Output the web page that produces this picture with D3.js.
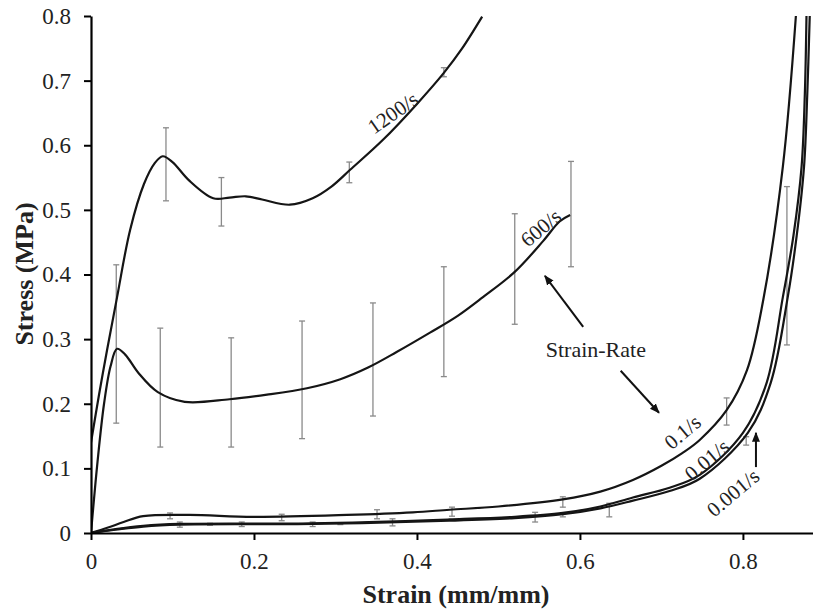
<!DOCTYPE html>
<html>
<head>
<meta charset="utf-8">
<script src="https://cdn.jsdelivr.net/npm/d3@7"></script>
<style>
  html, body { margin: 0; padding: 0; background: #fff; }
  svg { display: block; }
</style>
</head>
<body>
<svg id="chart" width="813" height="611"></svg>
<script>
// ---------- data ----------
const xTicks = [0, 0.2, 0.4, 0.6, 0.8];
const yTicks = [0, 0.1, 0.2, 0.3, 0.4, 0.5, 0.6, 0.7, 0.8];

const strain1200 = [0, 0.01, 0.02, 0.032, 0.048, 0.065, 0.078, 0.088, 0.1, 0.12, 0.15, 0.17, 0.19, 0.21, 0.244, 0.272, 0.295, 0.318, 0.358, 0.40, 0.433, 0.455, 0.48];
const stress1200 = [0.14, 0.215, 0.285, 0.365, 0.469, 0.54, 0.572, 0.583, 0.574, 0.546, 0.518, 0.519, 0.521, 0.516, 0.508, 0.518, 0.536, 0.562, 0.608, 0.664, 0.712, 0.749, 0.799];
const err1200X  = [0.092, 0.16, 0.317, 0.433];
const err1200Lo = [0.514, 0.475, 0.542, 0.706];
const err1200Hi = [0.627, 0.55, 0.574, 0.72];

const strain600 = [0, 0.008, 0.016, 0.024, 0.032, 0.042, 0.058, 0.082, 0.115, 0.17, 0.216, 0.265, 0.306, 0.34, 0.375, 0.416, 0.45, 0.481, 0.52, 0.555, 0.575, 0.588];
const stress600 = [0, 0.11, 0.2, 0.258, 0.285, 0.276, 0.248, 0.218, 0.203, 0.207, 0.214, 0.224, 0.238, 0.256, 0.28, 0.31, 0.336, 0.365, 0.404, 0.452, 0.482, 0.492];
const err600X  = [0.031, 0.085, 0.172, 0.259, 0.346, 0.433, 0.52, 0.589];
const err600Lo = [0.170, 0.133, 0.133, 0.146, 0.181, 0.242, 0.323, 0.412];
const err600Hi = [0.415, 0.317, 0.302, 0.328, 0.356, 0.412, 0.494, 0.575];

const strain01 = [0, 0.02, 0.04, 0.064, 0.121, 0.199, 0.314, 0.395, 0.44, 0.5, 0.579, 0.625, 0.665, 0.7, 0.726, 0.747, 0.78, 0.805, 0.825, 0.849, 0.865];
const stress01 = [0, 0.008, 0.017, 0.026, 0.028, 0.025, 0.028, 0.032, 0.036, 0.041, 0.052, 0.064, 0.082, 0.104, 0.124, 0.144, 0.19, 0.252, 0.361, 0.567, 0.8];
const err01X  = [0.097, 0.234, 0.351, 0.443, 0.579, 0.78];
const err01Lo = [0.022, 0.019, 0.022, 0.026, 0.040, 0.167];
const err01Hi = [0.031, 0.029, 0.036, 0.040, 0.056, 0.209];

const strain001 = [0, 0.03, 0.064, 0.109, 0.272, 0.44, 0.52, 0.579, 0.625, 0.665, 0.71, 0.747, 0.8, 0.829, 0.849, 0.862, 0.872, 0.876, 0.878];
const stress001 = [0, 0.006, 0.011, 0.014, 0.015, 0.021, 0.025, 0.031, 0.041, 0.055, 0.07, 0.09, 0.155, 0.232, 0.365, 0.46, 0.567, 0.68, 0.8];

const strain0001 = [0, 0.03, 0.064, 0.109, 0.272, 0.44, 0.52, 0.579, 0.625, 0.665, 0.71, 0.747, 0.806, 0.834, 0.855, 0.866, 0.875, 0.879, 0.882];
const stress0001 = [0, 0.005, 0.01, 0.013, 0.014, 0.019, 0.023, 0.029, 0.038, 0.05, 0.065, 0.084, 0.155, 0.232, 0.365, 0.46, 0.567, 0.68, 0.8];
const errLowX  = [0.109, 0.146, 0.185, 0.272, 0.306, 0.37, 0.545, 0.579, 0.636, 0.804, 0.854];
const errLowLo = [0.009, 0.012, 0.010, 0.010, 0.013, 0.011, 0.017, 0.025, 0.025, 0.136, 0.291];
const errLowHi = [0.017, 0.015, 0.017, 0.017, 0.016, 0.022, 0.032, 0.030, 0.046, 0.149, 0.536];

// curve labels (text, strain, stress, rotation)
const labelText  = ["1200/s", "600/s", "0.1/s", "0.01/s", "0.001/s"];
const labelX     = [0.3706, 0.552, 0.726, 0.756, 0.788];
const labelY     = [0.650, 0.472, 0.156, 0.113, 0.062];
const labelAngle = [-35, -40, -40, -40, -40];

// annotation "Strain-Rate" and arrows (data coords)
const noteText = "Strain-Rate";
const noteX = 0.558, noteY = 0.272;
const arrowX1 = [0.604, 0.650, 0.816];
const arrowY1 = [0.319, 0.251, 0.102];
const arrowX2 = [0.557, 0.697, 0.816];
const arrowY2 = [0.398, 0.186, 0.155];

// ---------- chart ----------
const FONT = "Liberation Serif";
const svg = d3.select("#chart");
const x = d3.scaleLinear().domain([0, 0.886]).range([91, 813]);
const y = d3.scaleLinear().domain([0, 0.8]).range([533, 16]);

const defs = svg.append("defs");
defs.append("clipPath").attr("id", "plotclip")
  .append("rect").attr("x", 91).attr("y", 15).attr("width", 722).attr("height", 519);
defs.append("marker").attr("id", "ah")
  .attr("viewBox", "0 0 10 10").attr("refX", 9).attr("refY", 5)
  .attr("markerWidth", 10).attr("markerHeight", 10)
  .attr("markerUnits", "userSpaceOnUse").attr("orient", "auto")
  .append("path").attr("d", "M0,1 L10,5 L0,9 Z").attr("fill", "#111");

function errorBars(xs, lo, hi) {
  const g = svg.append("g").attr("stroke", "#8a8a8a").attr("stroke-width", 1.3).attr("fill", "none");
  xs.forEach((v, i) => {
    g.append("line").attr("x1", x(v)).attr("x2", x(v)).attr("y1", y(lo[i])).attr("y2", y(hi[i]));
    g.append("line").attr("x1", x(v) - 3).attr("x2", x(v) + 3).attr("y1", y(lo[i])).attr("y2", y(lo[i]));
    g.append("line").attr("x1", x(v) - 3).attr("x2", x(v) + 3).attr("y1", y(hi[i])).attr("y2", y(hi[i]));
  });
}
errorBars(err1200X, err1200Lo, err1200Hi);
errorBars(err600X, err600Lo, err600Hi);
errorBars(err01X, err01Lo, err01Hi);
errorBars(errLowX, errLowLo, errLowHi);

const line = d3.line().x(d => x(d[0])).y(d => y(d[1])).curve(d3.curveCatmullRom.alpha(0.5));
const curves = [
  [strain1200, stress1200],
  [strain600, stress600],
  [strain01, stress01],
  [strain001, stress001],
  [strain0001, stress0001]
];
const cg = svg.append("g").attr("clip-path", "url(#plotclip)");
curves.forEach(([xs, ys]) => {
  cg.append("path")
    .datum(xs.map((v, i) => [v, ys[i]]))
    .attr("d", line)
    .attr("fill", "none")
    .attr("stroke", "#151515")
    .attr("stroke-width", 2.2);
});

const fmt = d => d === 0 ? "0" : d3.format(".1f")(d);
const yAxis = svg.append("g").attr("transform", "translate(91,0)")
  .call(d3.axisLeft(y).tickValues(yTicks).tickFormat(fmt).tickSize(7).tickSizeOuter(0).tickPadding(13));
const xAxis = svg.append("g").attr("transform", "translate(0,533)")
  .call(d3.axisBottom(x).tickValues(xTicks).tickFormat(fmt).tickSize(7).tickSizeOuter(0).tickPadding(13));
[yAxis, xAxis].forEach(a => {
  a.attr("font-family", FONT).attr("font-size", 23);
  a.selectAll("path.domain").attr("stroke", "#000").attr("stroke-width", 2.2);
  a.selectAll(".tick line").attr("stroke", "#000").attr("stroke-width", 2);
  a.selectAll(".tick text").attr("fill", "#222");
});

svg.append("text").attr("x", 456).attr("y", 603).attr("text-anchor", "middle")
  .attr("font-family", FONT).attr("font-size", 26).attr("font-weight", "bold").attr("fill", "#222")
  .text("Strain (mm/mm)");
svg.append("text").attr("transform", "translate(33,274) rotate(-90)").attr("text-anchor", "middle")
  .attr("font-family", FONT).attr("font-size", 26).attr("font-weight", "bold").attr("fill", "#222")
  .text("Stress (MPa)");

labelText.forEach((t, i) => {
  svg.append("text")
    .attr("transform", `translate(${x(labelX[i])},${y(labelY[i])}) rotate(${labelAngle[i]})`)
    .attr("text-anchor", "middle").attr("dominant-baseline", "central")
    .attr("font-family", FONT).attr("font-size", 21).attr("fill", "#222").text(t);
});

svg.append("text").attr("x", x(noteX)).attr("y", y(noteY))
  .attr("font-family", FONT).attr("font-size", 22).attr("fill", "#222").text(noteText);
arrowX1.forEach((v, i) => {
  svg.append("line")
    .attr("x1", x(v)).attr("y1", y(arrowY1[i]))
    .attr("x2", x(arrowX2[i])).attr("y2", y(arrowY2[i]))
    .attr("stroke", "#111").attr("stroke-width", 2)
    .attr("marker-end", "url(#ah)");
});
</script>
</body>
</html>
